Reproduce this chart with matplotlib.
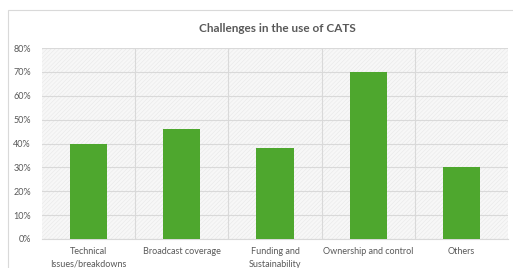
import matplotlib.pyplot as plt
from matplotlib.patches import Rectangle
from matplotlib.ticker import FuncFormatter, MultipleLocator

categories = ["Technical\nIssues/breakdowns", "Broadcast coverage",
              "Funding and\nSustainability", "Ownership and control", "Others"]
values = [0.40, 0.46, 0.38, 0.70, 0.30]

plt.rcParams['font.family'] = ['Lato', 'DejaVu Sans']
plt.rcParams['hatch.linewidth'] = 0.4

fig = plt.figure(figsize=(5.13, 2.68), dpi=100)
# chart border (cut off at right and bottom like the reference)
fig.patches.append(Rectangle((8 / 513, -0.05), 1.1, 1 - 10 / 268 + 0.05,
                             transform=fig.transFigure, fill=False,
                             edgecolor='#d9d9d9', linewidth=0.8))

ax = fig.add_axes([42 / 513, 1 - 239 / 268, 466 / 513, 191 / 268])
ax.add_patch(Rectangle((0, 0), 1, 1, transform=ax.transAxes, facecolor='#f7f7f7',
                       hatch='////////', edgecolor='#e8e8e8', linewidth=0, zorder=0))

x = range(len(categories))
ax.bar(x, values, width=0.4, color='#4ea72e', zorder=3)

ax.set_xlim(-0.5, len(categories) - 0.5)
ax.set_ylim(0, 0.8)
ax.yaxis.set_major_locator(MultipleLocator(0.1))
ax.yaxis.set_major_formatter(FuncFormatter(lambda v, p: f"{v * 100:.0f}%"))
ax.set_xticks(list(x))
ax.set_xticklabels(categories, fontsize=6.5, color='#595959', linespacing=1.5)
ax.tick_params(axis='y', labelsize=6.5, labelcolor='#595959', length=0, pad=8)
ax.tick_params(axis='x', length=0, pad=6)

ax.grid(axis='y', color='#d9d9d9', linewidth=0.8, zorder=1)
for b in [i + 0.5 for i in range(len(categories) - 1)]:
    ax.axvline(b, color='#d9d9d9', linewidth=0.8, zorder=1)
for s in ['top', 'right', 'left']:
    ax.spines[s].set_visible(False)
ax.spines['bottom'].set_color('#d9d9d9')
ax.set_axisbelow(True)

fig.text(277 / 513, 1 - 28 / 268, "Challenges in the use of CATS", ha='center', va='center',
         fontsize=8.5, fontweight='bold', color='#595959')

fig.savefig('out.png', dpi=100)
